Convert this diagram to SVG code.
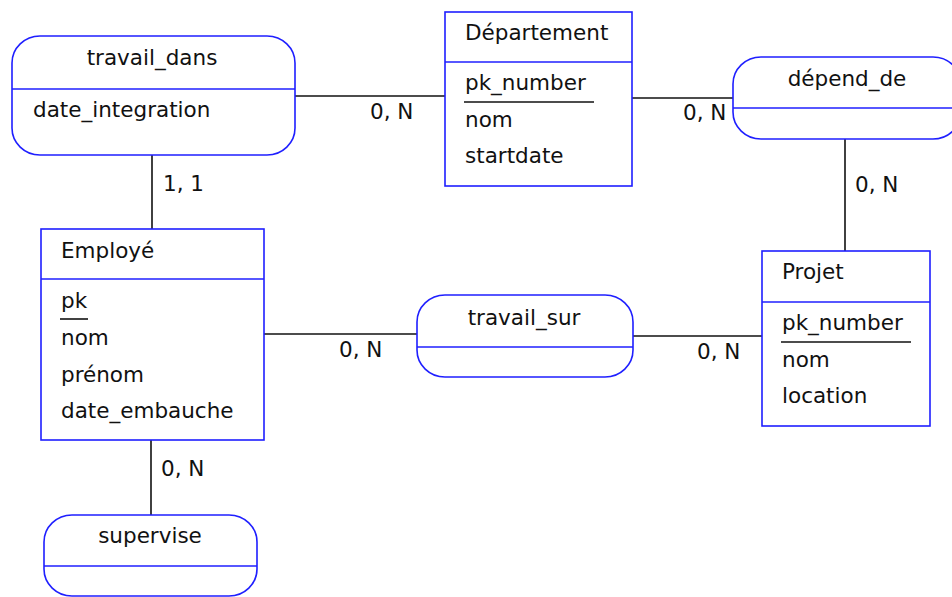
<svg xmlns="http://www.w3.org/2000/svg" width="952" height="597" viewBox="0 0 952 597">
  <style>
    .box { fill: #ffffff; stroke: #1f1fff; stroke-width: 1.6; }
    .div { stroke: #1f1fff; stroke-width: 1.6; }
    .link { stroke: #111111; stroke-width: 1.6; fill: none; }
    .ul { stroke: #111111; stroke-width: 1.6; }
    text { font-family: "DejaVu Sans", "Liberation Sans", sans-serif; font-size: 21.5px; fill: #111111; }
    .mid { text-anchor: middle; }
  </style>
  <rect width="952" height="597" fill="#ffffff"/>

  <!-- connectors -->
  <g id="connectors">
    <line class="link" x1="295" y1="96" x2="445" y2="96"/>
    <line class="link" x1="632" y1="98" x2="733" y2="98"/>
    <line class="link" x1="152" y1="155" x2="152" y2="229"/>
    <line class="link" x1="845" y1="139" x2="845" y2="251"/>
    <line class="link" x1="264" y1="334" x2="417" y2="334"/>
    <line class="link" x1="633" y1="336" x2="762" y2="336"/>
    <line class="link" x1="151" y1="440" x2="151" y2="515"/>
    <text x="370" y="119">0, N</text>
    <text x="163" y="191">1, 1</text>
    <text x="683" y="120">0, N</text>
    <text x="855" y="192">0, N</text>
    <text x="339" y="357">0, N</text>
    <text x="697" y="359">0, N</text>
    <text x="161" y="476">0, N</text>
  </g>

  <!-- relationships -->
  <g id="travail_dans">
    <rect class="box" x="12" y="36" width="283" height="119" rx="28" ry="27"/>
    <line class="div" x1="12" y1="89" x2="295" y2="89"/>
    <text class="mid" x="152" y="65">travail_dans</text>
    <text x="33" y="117">date_integration</text>
  </g>

  <g id="depend_de">
    <rect class="box" x="733" y="57" width="228" height="82" rx="28" ry="27"/>
    <line class="div" x1="733" y1="108" x2="961" y2="108"/>
    <text class="mid" x="847" y="86">dépend_de</text>
  </g>

  <g id="travail_sur">
    <rect class="box" x="417" y="295" width="216" height="82" rx="28" ry="27"/>
    <line class="div" x1="417" y1="347" x2="633" y2="347"/>
    <text class="mid" x="524" y="325">travail_sur</text>
  </g>

  <g id="supervise">
    <rect class="box" x="44" y="515" width="213" height="81" rx="28" ry="27"/>
    <line class="div" x1="44" y1="566" x2="257" y2="566"/>
    <text class="mid" x="150" y="543">supervise</text>
  </g>

  <!-- entities -->
  <g id="departement">
    <rect class="box" x="445" y="12" width="187" height="174"/>
    <line class="div" x1="445" y1="62" x2="632" y2="62"/>
    <text x="465" y="40">Département</text>
    <text x="465" y="90">pk_number</text>
    <line class="ul" x1="464" y1="102" x2="594" y2="102"/>
    <text x="465" y="127">nom</text>
    <text x="465" y="163">startdate</text>
  </g>

  <g id="projet">
    <rect class="box" x="762" y="251" width="168" height="175"/>
    <line class="div" x1="762" y1="302" x2="930" y2="302"/>
    <text x="782" y="279">Projet</text>
    <text x="782" y="330">pk_number</text>
    <line class="ul" x1="781" y1="342" x2="911" y2="342"/>
    <text x="782" y="367">nom</text>
    <text x="782" y="403">location</text>
  </g>

  <g id="employe">
    <rect class="box" x="41" y="229" width="223" height="211"/>
    <line class="div" x1="41" y1="279" x2="264" y2="279"/>
    <text x="61" y="258">Employé</text>
    <text x="61" y="308">pk</text>
    <line class="ul" x1="60" y1="319" x2="88" y2="319"/>
    <text x="61" y="345">nom</text>
    <text x="61" y="382">prénom</text>
    <text x="61" y="418">date_embauche</text>
  </g>
</svg>
